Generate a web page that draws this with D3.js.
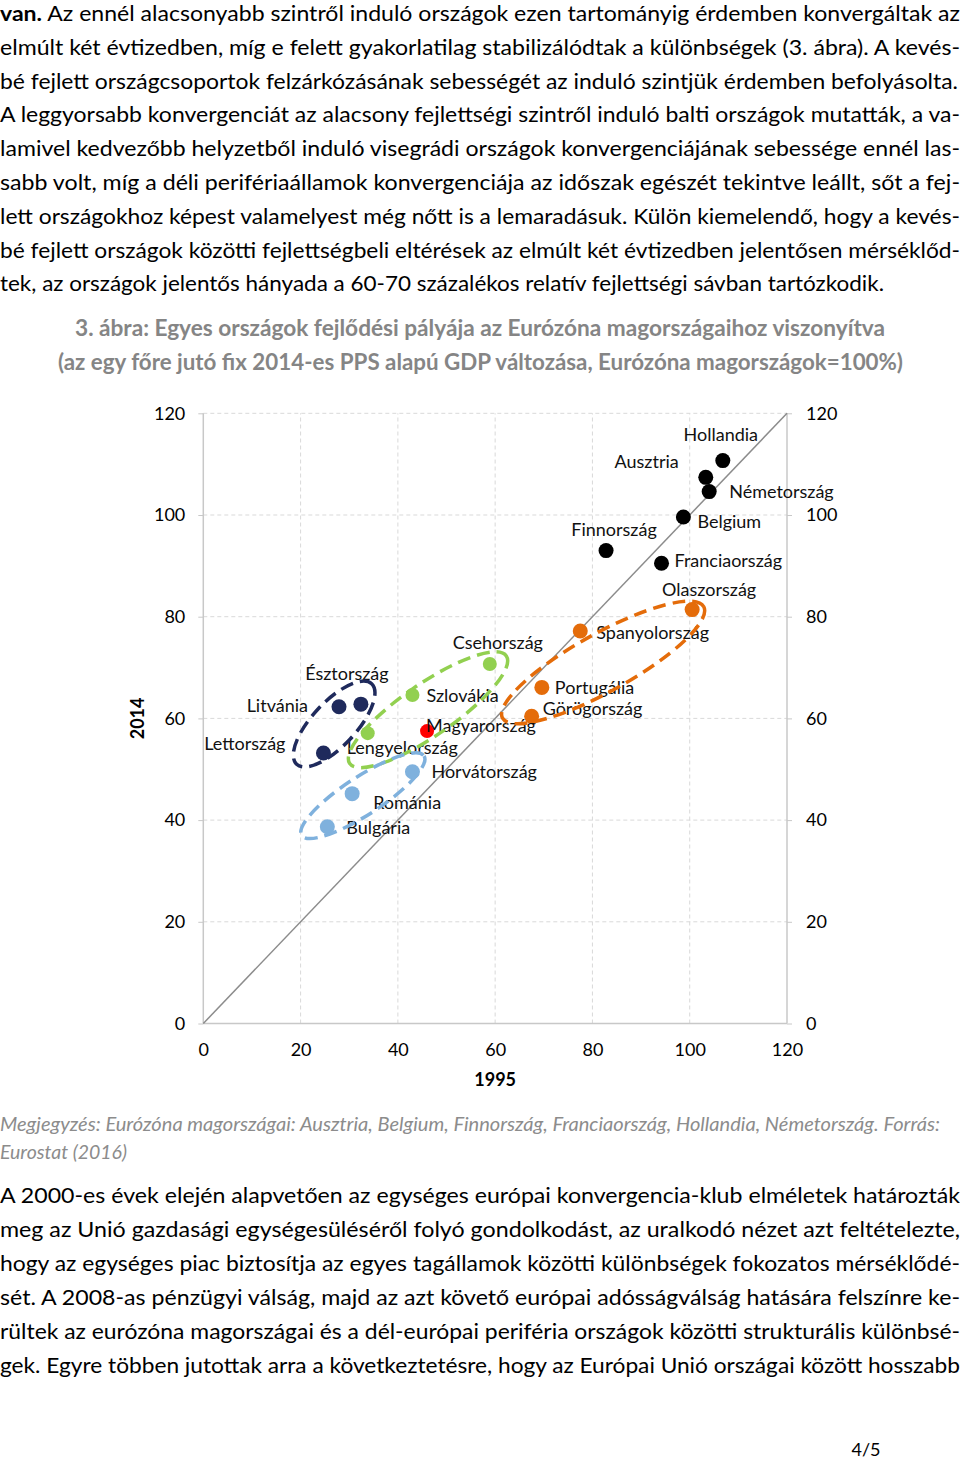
<!DOCTYPE html>
<html>
<head>
<meta charset="utf-8">
<script src="https://cdn.jsdelivr.net/npm/d3@7"></script>
<style>
  html, body { margin: 0; padding: 0; background: #fff; }
  svg { display: block; }
</style>
</head>
<body>
<svg id="page" width="960" height="1459"></svg>
<script>
// ---------------- DATA ----------------
const countries = ["Hollandia","Ausztria","Németország","Belgium","Finnország","Franciaország",
  "Olaszország","Spanyolország","Portugália","Görögország",
  "Csehország","Szlovákia","Magyarország","Lengyelország",
  "Észtország","Litvánia","Lettország",
  "Horvátország","Románia","Bulgária"];
const gdp1995 = [106.8,103.3,104.0,98.7,82.8,94.2, 100.5,77.5,69.6,67.5, 58.9,43.0,46.0,33.8, 32.4,27.9,24.7, 43.0,30.6,25.5];
const gdp2014 = [110.7,107.4,104.6,99.6,93.0,90.5, 81.4,77.2,66.1,60.4, 70.7,64.6,57.5,57.1, 62.8,62.3,53.2, 49.5,45.2,38.7];
const groupOf = ["core","core","core","core","core","core",
  "south","south","south","south",
  "v4","v4","hu","v4",
  "baltic","baltic","baltic",
  "east","east","east"];
const tickValues = [0,20,40,60,80,100,120];
const xTitle = "1995";
const yTitle = "2014";

const titleLines = [
  "3. ábra: Egyes országok fejlődési pályája az Eurózóna magországaihoz viszonyítva",
  "(az egy főre jutó fix 2014-es PPS alapú GDP változása, Eurózóna magországok=100%)"
];
const topParagraph = [
  "Az ennél alacsonyabb szintről induló országok ezen tartományig érdemben konvergáltak az",
  "elmúlt két évtizedben, míg e felett gyakorlatilag stabilizálódtak a különbségek (3. ábra). A kevés-",
  "bé fejlett országcsoportok felzárkózásának sebességét az induló szintjük érdemben befolyásolta.",
  "A leggyorsabb konvergenciát az alacsony fejlettségi szintről induló balti országok mutatták, a va-",
  "lamivel kedvezőbb helyzetből induló visegrádi országok konvergenciájának sebessége ennél las-",
  "sabb volt, míg a déli perifériaállamok konvergenciája az időszak egészét tekintve leállt, sőt a fej-",
  "lett országokhoz képest valamelyest még nőtt is a lemaradásuk. Külön kiemelendő, hogy a kevés-",
  "bé fejlett országok közötti fejlettségbeli eltérések az elmúlt két évtizedben jelentősen mérséklőd-",
  "tek, az országok jelentős hányada a 60-70 százalékos relatív fejlettségi sávban tartózkodik."
];
const footnoteLines = [
  "Megjegyzés: Eurózóna magországai: Ausztria, Belgium, Finnország, Franciaország, Hollandia, Németország. Forrás:",
  "Eurostat (2016)"
];
const bottomParagraph = [
  "A 2000-es évek elején alapvetően az egységes európai konvergencia-klub elméletek határozták",
  "meg az Unió gazdasági egységesüléséről folyó gondolkodást, az uralkodó nézet azt feltételezte,",
  "hogy az egységes piac biztosítja az egyes tagállamok közötti különbségek fokozatos mérséklődé-",
  "sét. A 2008-as pénzügyi válság, majd az azt követő európai adósságválság hatására felszínre ke-",
  "rültek az eurózóna magországai és a dél-európai periféria országok közötti strukturális különbsé-",
  "gek. Egyre többen jutottak arra a következtetésre, hogy az Európai Unió országai között hosszabb"
];
const pageNumber = "4/5";

// ---------------- LAYOUT / STYLE ----------------
const FONT = "Lato, 'Open Sans', sans-serif";
const groupColor = {core:"#000000", south:"#e46c0a", v4:"#92d050", hu:"#ff0000", baltic:"#1f2a5c", east:"#7fb1dd"};
const pointRadius = {core:7.5, south:7.5, v4:7, hu:7, baltic:7.5, east:7.5};
// [anchor, dx, dy] in px relative to point
const labelPlacement = [
  ["middle",-2,-26],["end",-27,-16],["start",20,0],["start",14,5],["middle",8,-21],["start",13,-3],
  ["middle",17,-20],["start",16,2],["start",13,0],["start",11,-8],
  ["middle",8,-21],["start",14,1],["start",-1,-5],["start",-21,15],
  ["middle",-14,-30],["end",-31,-1],["end",-38,-9],
  ["start",19,0],["start",21,9],["start",19,1]
];
// dashed group outlines: centre in data units, radii px, rotation deg
const outlines = [
  {group:"baltic", cx:26.9, cy:58.9, rx:55, ry:22, rot:-47},
  {group:"v4",     cx:46.2, cy:61.7, rx:95, ry:26, rot:-34.5},
  {group:"east",   cx:32.8, cy:44.8, rx:73, ry:19, rot:-33},
  {group:"south",  cx:82.2, cy:71.0, rx:115, ry:29, rot:-29}
];

const svg = d3.select("#page");

// ---------- paragraph helper ----------
function textLine(sel, str, x, y, width, opts) {
  const t = sel.append("text")
    .attr("x", x).attr("y", y)
    .attr("font-family", FONT)
    .attr("font-size", opts.size)
    .attr("fill", opts.color || "#000")
    .attr("font-style", opts.italic ? "italic" : null)
    .attr("font-weight", opts.bold ? "bold" : null)
    .attr("text-anchor", opts.anchor || "start");
  if (opts.prefix) {
    t.append("tspan").attr("font-weight","bold").text(opts.prefix);
    t.append("tspan").text(" " + str);
  } else {
    t.text(str);
  }
  if (width) t.attr("textLength", width).attr("lengthAdjust", "spacingAndGlyphs");
  return t;
}

// top paragraph
topParagraph.forEach((s, i) => {
  const last = i === topParagraph.length - 1;
  textLine(svg, s, 0, 21 + i * 33.8, last ? 884 : (i === 2 ? 958 : 960),
    {size: 21.5, prefix: i === 0 ? "van." : null});
});

// title
textLine(svg, titleLines[0], 75, 336, 810, {size: 22, bold: true, color: "#858585"});
textLine(svg, titleLines[1], 58, 370, 845, {size: 22, bold: true, color: "#858585"});

// ---------------- CHART ----------------
const x = d3.scaleLinear().domain([0,120]).range([203.3, 787]);
const y = d3.scaleLinear().domain([0,120]).range([1023.5, 413.3]);
const chart = svg.append("g");

// gridlines
chart.append("g").selectAll("line.h").data(tickValues.filter(v => v > 0)).join("line")
  .attr("x1", x(0)).attr("x2", x(120)).attr("y1", d => y(d)).attr("y2", d => y(d))
  .attr("stroke", "#d9d9d9").attr("stroke-width", 1).attr("stroke-dasharray", "4,3");
chart.append("g").selectAll("line.v").data(tickValues.filter(v => v > 0 && v < 120)).join("line")
  .attr("y1", y(0)).attr("y2", y(120)).attr("x1", d => x(d)).attr("x2", d => x(d))
  .attr("stroke", "#d9d9d9").attr("stroke-width", 1).attr("stroke-dasharray", "4,3");

// axes
const axisColor = "#c8c8c8";
const leftAxis = chart.append("g").attr("transform", `translate(${x(0)},0)`)
  .call(d3.axisLeft(y).tickValues(tickValues).tickSize(5).tickPadding(13));
const rightAxis = chart.append("g").attr("transform", `translate(${x(120)},0)`)
  .call(d3.axisRight(y).tickValues(tickValues).tickSize(5).tickPadding(14));
const bottomAxis = chart.append("g").attr("transform", `translate(0,${y(0)})`)
  .call(d3.axisBottom(x).tickValues(tickValues).tickSize(0).tickPadding(20));
[leftAxis, rightAxis, bottomAxis].forEach(a => {
  a.select(".domain").attr("stroke", axisColor).attr("stroke-width", 1.5);
  a.selectAll(".tick line").attr("stroke", axisColor);
  a.selectAll(".tick text").attr("font-family", FONT).attr("font-size", 18).attr("fill", "#000");
});
leftAxis.select(".domain").attr("d", `M0,${y(120)}V${y(0)}`);
rightAxis.select(".domain").attr("d", `M0,${y(120)}V${y(0)}`);
bottomAxis.select(".domain").attr("d", `M${x(0)},0H${x(120)}`);

// axis titles
chart.append("text").attr("x", x(60)).attr("y", 1086).attr("text-anchor", "middle")
  .attr("font-family", FONT).attr("font-size", 18).attr("font-weight", "bold").text(xTitle);
chart.append("text").attr("transform", `translate(144,${y(60)}) rotate(-90)`).attr("text-anchor", "middle")
  .attr("font-family", FONT).attr("font-size", 18).attr("font-weight", "bold").text(yTitle);

// 45-degree line
chart.append("line").attr("x1", x(0)).attr("y1", y(0)).attr("x2", x(120)).attr("y2", y(120))
  .attr("stroke", "#8c8c8c").attr("stroke-width", 1.5);

// points
const pts = countries.map((c, i) => ({name: c, vx: gdp1995[i], vy: gdp2014[i], g: groupOf[i], lp: labelPlacement[i]}));
chart.append("g").selectAll("circle").data(pts).join("circle")
  .attr("cx", d => x(d.vx)).attr("cy", d => y(d.vy))
  .attr("r", d => pointRadius[d.g]).attr("fill", d => groupColor[d.g]);

// labels
chart.append("g").selectAll("text").data(pts).join("text")
  .attr("x", d => x(d.vx) + d.lp[1]).attr("y", d => y(d.vy) + d.lp[2])
  .attr("dy", "0.35em").attr("text-anchor", d => d.lp[0])
  .attr("font-family", FONT).attr("font-size", 18).attr("fill", "#111")
  .text(d => d.name);

// dashed outlines
chart.append("g").selectAll("ellipse").data(outlines).join("ellipse")
  .attr("transform", d => `translate(${x(d.cx)},${y(d.cy)}) rotate(${d.rot})`)
  .attr("rx", d => d.rx).attr("ry", d => d.ry)
  .attr("fill", "none").attr("stroke", d => groupColor[d.group])
  .attr("stroke-width", 3.5).attr("stroke-dasharray", "13,7");

// ---------------- FOOTNOTE & TEXT ----------------
textLine(svg, footnoteLines[0], 0, 1131, 940, {size: 19, italic: true, color: "#8c8c8c"});
textLine(svg, footnoteLines[1], 0, 1159, 127, {size: 19, italic: true, color: "#8c8c8c"});

bottomParagraph.forEach((s, i) => {
  textLine(svg, s, 0, 1203 + i * 34, 960, {size: 22});
});

svg.append("text").attr("x", 866).attr("y", 1456).attr("text-anchor", "middle")
  .attr("font-family", FONT).attr("font-size", 18).text(pageNumber);
</script>
</body>
</html>
